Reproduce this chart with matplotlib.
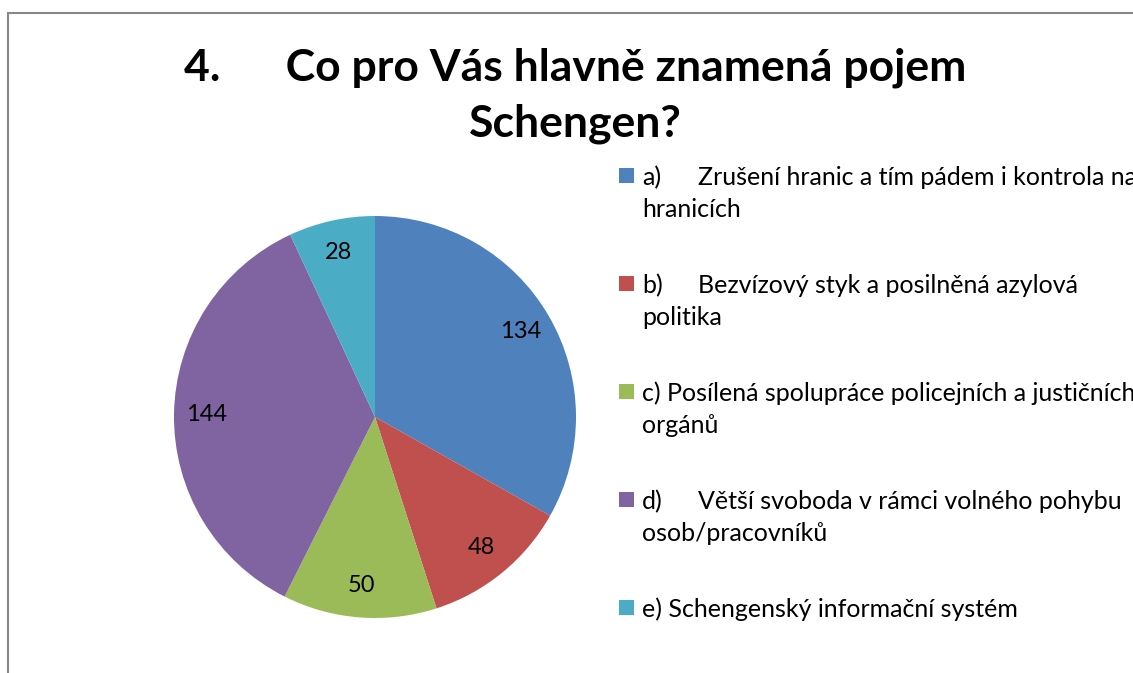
import matplotlib.pyplot as plt
from matplotlib.patches import Rectangle

labels = ['a)\tZrušení hranic a tím pádem i kontrola na\nhranicích',
          'b)\tBezvízový styk a posilněná azylová\npolitika',
          'c) Posílená spolupráce policejních a justičních\norgánů',
          'd)\tVětší svoboda v rámci volného pohybu\nosob/pracovníků',
          'e) Schengenský informační systém']
values = [134, 48, 50, 144, 28]
colors = ['#4F81BD', '#C0504D', '#9BBB59', '#8064A2', '#4BACC6']
title_lines = ['4.      Co pro Vás hlavně znamená pojem', 'Schengen?']

plt.rcParams['font.family'] = ['Lato', 'DejaVu Sans']
W, H = 1133, 673
fig = plt.figure(figsize=(W / 100, H / 100), dpi=100)

def fx(px):
    return px / W

def fy(py):
    return 1 - py / H

# outer chart border (right/bottom cut off)
fig.patches.append(Rectangle((fx(7.5), -0.1), 1.2, (H - 12.5) / H + 0.1,
                             transform=fig.transFigure, fill=False,
                             edgecolor='#878787', linewidth=1.5))

for i, line in enumerate(title_lines):
    fig.text(fx(575), fy(80 + 57 * i), line, ha='center', va='baseline',
             fontsize=32, fontweight='bold')

ax = fig.add_axes([fx(174), 55 / H, 402 / W, 402 / H])
total = sum(values)
wedges, _, autotexts = ax.pie(values, colors=colors, startangle=90, counterclock=False,
                              radius=1, pctdistance=0.84,
                              autopct=lambda p: '%d' % round(p * total / 100),
                              wedgeprops=dict(linewidth=0),
                              textprops=dict(fontsize=17, color='black'))
ax.set_xlim(-1, 1)
ax.set_ylim(-1, 1)
ax.axis('off')

# legend, Excel style: marker on first line, wrapped text
for i, (lab, col) in enumerate(zip(labels, colors)):
    base = 185 + 108 * i
    fig.patches.append(Rectangle((fx(619), fy(base - 2)), 15 / W, 15 / H,
                                 transform=fig.transFigure, facecolor=col,
                                 edgecolor='none'))
    for j, line in enumerate(lab.split('\n')):
        y = fy(base + 32 * j)
        if '\t' in line:
            head, rest = line.split('\t')
            fig.text(fx(642), y, head, va='baseline', fontsize=18)
            fig.text(fx(698), y, rest, va='baseline', fontsize=18)
        else:
            fig.text(fx(642), y, line, va='baseline', fontsize=18)

fig.savefig('out.png', dpi=100)
